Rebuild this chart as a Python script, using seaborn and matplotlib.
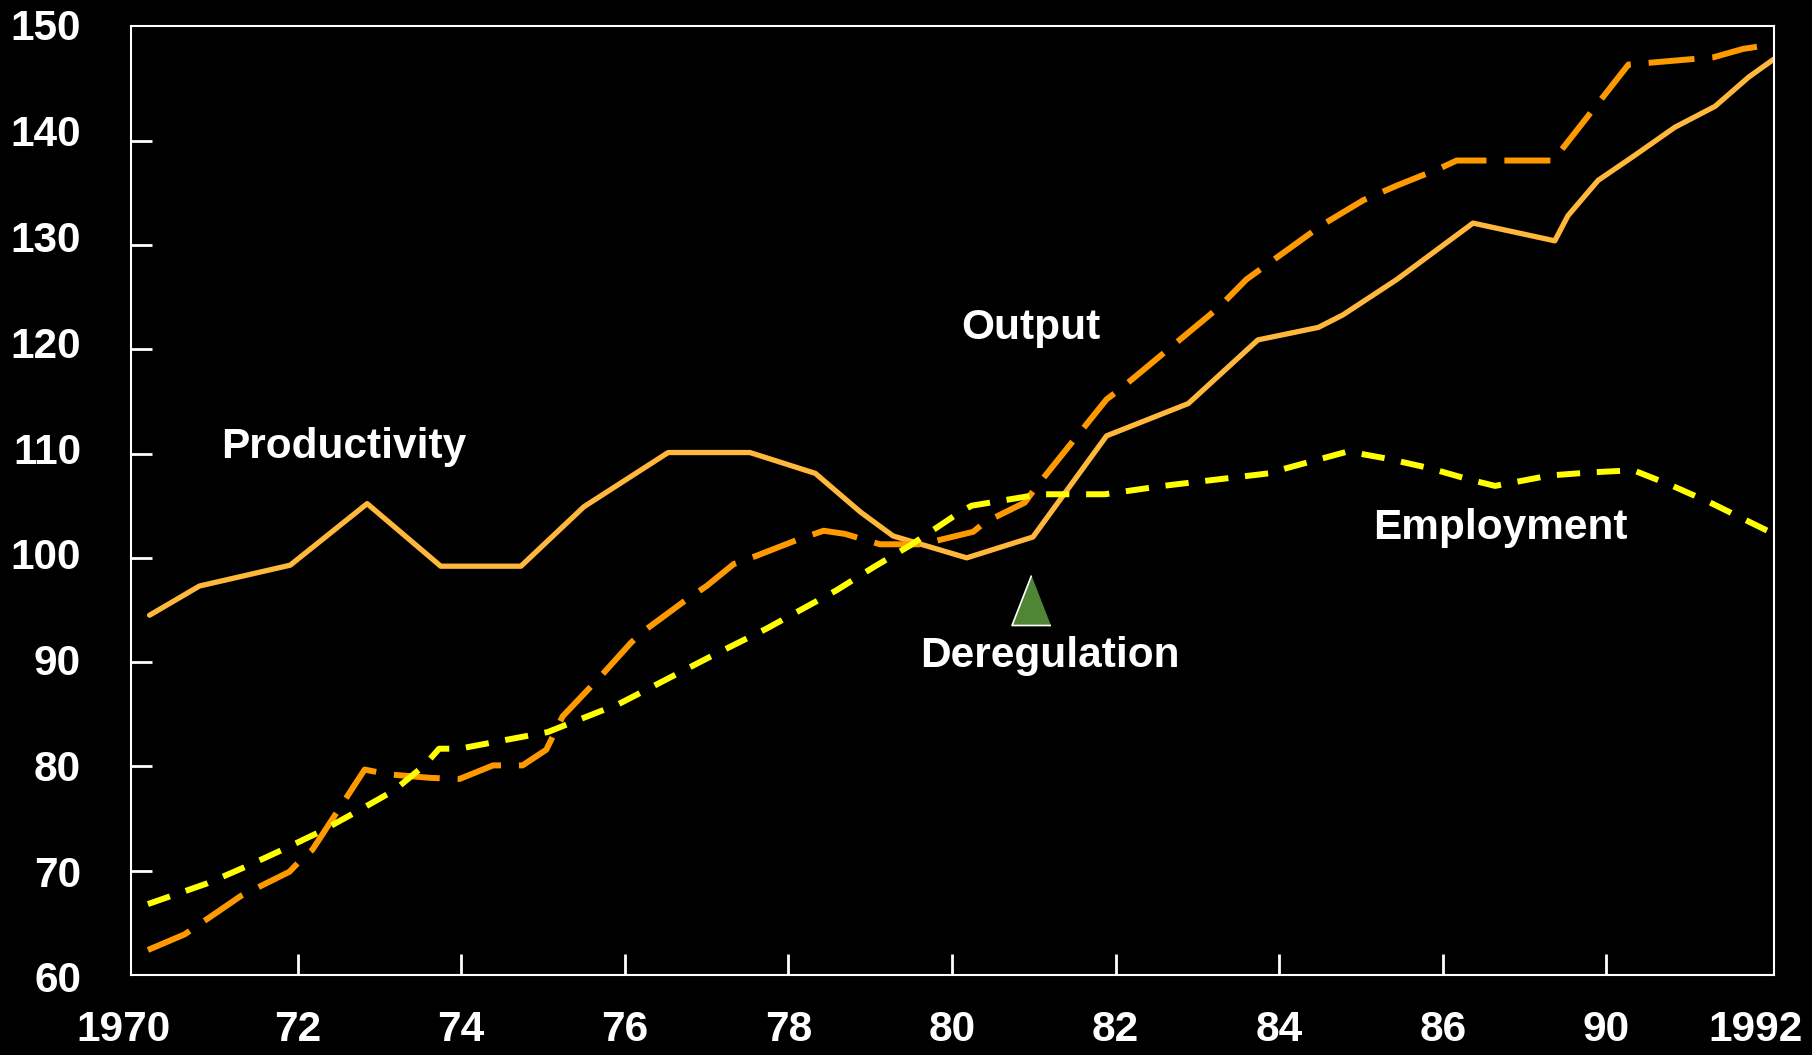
import matplotlib
matplotlib.use("Agg")
import matplotlib.pyplot as plt
import matplotlib.transforms as mtransforms
import seaborn as sns

# positions along the time axis (axis is labelled 1970, 72 ... 86, 90, 1992)
prod_x = [1970.19, 1970.80, 1971.91, 1972.85, 1973.75, 1974.73, 1975.50, 1976.53,
          1977.53, 1978.33, 1978.88, 1979.28, 1980.18, 1980.99, 1981.89, 1982.89,
          1983.74, 1984.48, 1984.78, 1985.44, 1986.37, 1987.37, 1987.53, 1987.90,
          1988.33, 1988.84, 1989.33, 1989.74, 1990.08]
prod_y = [94.5, 97.3, 99.3, 105.2, 99.2, 99.2, 104.9, 110.1,
          110.1, 108.1, 104.4, 102.1, 100.0, 102.0, 111.7, 114.8,
          120.9, 122.1, 123.3, 126.7, 132.1, 130.4, 132.8, 136.2,
          138.5, 141.3, 143.3, 146.1, 148.0]

out_x = [1970.17, 1970.62, 1971.31, 1971.90, 1972.06, 1972.18, 1972.82, 1973.10,
         1973.63, 1973.98, 1974.39, 1974.75, 1975.04, 1975.24, 1975.70, 1976.08,
         1976.27, 1976.72, 1977.00, 1977.33, 1977.61, 1978.10, 1978.43, 1978.69,
         1979.12, 1979.63, 1980.26, 1980.40, 1980.89, 1981.03, 1981.89, 1982.06,
         1983.26, 1983.60, 1984.52, 1985.03, 1985.44, 1985.95, 1986.17, 1987.37,
         1987.45, 1988.27, 1989.31, 1989.67, 1990.08]
out_y = [62.4, 63.9, 67.6, 69.9, 71.2, 72.0, 79.7, 79.25,
         78.9, 78.8, 80.1, 80.1, 81.6, 84.8, 88.6, 91.9,
         93.2, 95.8, 97.3, 99.4, 100.2, 101.7, 102.6, 102.3,
         101.3, 101.3, 102.5, 103.4, 105.3, 106.8, 115.2, 116.2,
         124.0, 126.7, 131.9, 134.3, 135.7, 137.3, 138.1, 138.1,
         139.1, 147.3, 148.0, 148.8, 149.3]

emp_x = [1970.17, 1970.90, 1971.37, 1971.84, 1972.29, 1972.73, 1973.18, 1973.55,
         1973.73, 1973.98, 1974.45, 1975.06, 1975.22, 1975.93, 1977.04, 1977.73,
         1978.59, 1979.04, 1979.49, 1980.10, 1980.24, 1980.85, 1981.08, 1981.87,
         1982.58, 1983.87, 1984.09, 1984.84, 1985.33, 1985.84, 1986.33, 1986.64,
         1987.31, 1987.82, 1988.33, 1988.78, 1989.27, 1989.71, 1990.10]
emp_y = [66.8, 68.8, 70.4, 72.1, 73.8, 75.7, 77.7, 80.1,
         81.7, 81.7, 82.4, 83.3, 83.8, 86.0, 90.5, 93.2,
         96.9, 99.1, 101.2, 104.4, 105.0, 105.8, 106.1, 106.1,
         106.9, 108.1, 108.6, 110.2, 109.5, 108.6, 107.5, 106.9,
         107.9, 108.2, 108.4, 107.0, 105.3, 103.6, 102.1]

x_ticks = [1970, 1972, 1974, 1976, 1978, 1980, 1982, 1984, 1986, 1988, 1990]
x_labels = ["1970", "72", "74", "76", "78", "80", "82", "84", "86", "90", "1992"]
y_ticks = [60, 70, 80, 90, 100, 110, 120, 130, 140, 150]

sns.set_style("ticks")
plt.rcParams["font.family"] = ["Liberation Sans", "DejaVu Sans"]
plt.rcParams["font.weight"] = "bold"

fig = plt.figure(figsize=(18.12, 10.55), dpi=100, facecolor="black")
ax = fig.add_axes([131 / 1812, 1 - 975 / 1055, (1774 - 131) / 1812, (975 - 26) / 1055])
ax.set_facecolor("black")

sns.lineplot(x=prod_x, y=prod_y, ax=ax, color="#FFB83C", lw=3.8, sort=False)
sns.lineplot(x=out_x, y=out_y, ax=ax, color="#FF9900", lw=4.3,
             linestyle=(0, (7.7, 3.0)), sort=False)
sns.lineplot(x=emp_x, y=emp_y, ax=ax, color="#FFFF00", lw=4.3,
             linestyle=(0, (3.9, 2.8)), sort=False)

ax.set_xlim(1969.963, 1990.05)
ax.set_ylim(60, 151)

# labels on major ticks, marks on minor ticks (inside the frame)
ax.xaxis.remove_overlapping_locs = False
ax.yaxis.remove_overlapping_locs = False
ax.set_xticks(x_ticks)
ax.set_xticklabels(x_labels)
ax.set_yticks(y_ticks)
ax.set_xticks(x_ticks[1:-1], minor=True)
ax.set_yticks(y_ticks[1:-1], minor=True)
ax.tick_params(which="major", length=0, colors="white", labelsize=30.5)
ax.tick_params(axis="y", which="major", pad=36)
ax.tick_params(axis="x", which="major", pad=25)
ax.tick_params(which="minor", direction="in", length=15, width=2, color="white",
               bottom=True, left=True)
for lab in ax.get_xticklabels() + ax.get_yticklabels():
    lab.set_fontweight("bold")

# nudge the end labels like in the original slide
xl = ax.get_xticklabels()
xl[0].set_transform(xl[0].get_transform() + mtransforms.ScaledTranslation(-0.11, 0, fig.dpi_scale_trans))
xl[-1].set_transform(xl[-1].get_transform() + mtransforms.ScaledTranslation(-0.14, 0, fig.dpi_scale_trans))
for i, lab in enumerate(ax.get_yticklabels()):
    dy = (1.5 * i - 2) / 100
    lab.set_transform(lab.get_transform() + mtransforms.ScaledTranslation(0, dy, fig.dpi_scale_trans))

for side in ["left", "right", "top", "bottom"]:
    ax.spines[side].set_color("white")
    ax.spines[side].set_linewidth(1.5)
    ax.spines[side].set_visible(True)
ax.set_xlabel("")
ax.set_ylabel("")

txt = dict(color="white", fontsize=30.5, fontweight="bold", ha="center", va="baseline")
ax.text(1972.57, 109.53, "Productivity", **txt)
ax.text(1980.96, 121.0, "Output", **txt)
ax.text(1986.70, 101.85, "Employment", **txt)
ax.text(1981.20, 89.55, "Deregulation", **txt)

# deregulation marker
ax.plot([1980.97], [96.0], marker=[(0, 1), (-0.78, -1), (0.78, -1)], markersize=36,
        markerfacecolor="#4E8636", markeredgecolor="white", markeredgewidth=1.2)

fig.savefig("out.png", dpi=100, facecolor="black")
